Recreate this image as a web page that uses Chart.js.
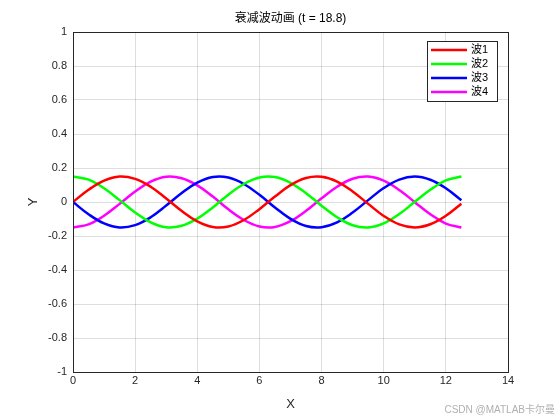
<!DOCTYPE html>
<html lang="zh">
<head>
<meta charset="UTF-8">
<script src="https://cdn.jsdelivr.net/npm/chart.js"></script>
<style>
  body { margin: 0; background: #fff; }
  #wrap { width: 560px; height: 420px; }
</style>
</head>
<body>
<div id="wrap"><canvas id="myChart"></canvas></div>
<script>
const xs = [0,0.5,1,1.5,2,2.5,3,3.5,4,4.5,5,5.5,6,6.5,7,7.5,8,8.5,9,9.5,10,10.5,11,11.5,12,12.5];
const wave1 = [0,0.072,0.126,0.150,0.136,0.090,0.021,-0.053,-0.114,-0.147,-0.144,-0.106,-0.042,0.032,0.099,0.141,0.148,0.120,0.062,-0.011,-0.082,-0.132,-0.150,-0.131,-0.081,-0.010];
const wave2 = [0.150,0.132,0.081,0.011,-0.062,-0.120,-0.149,-0.140,-0.098,-0.032,0.043,0.106,0.144,0.147,0.113,0.052,-0.022,-0.090,-0.137,-0.150,-0.126,-0.071,0.001,0.072,0.127,0.150];
const wave3 = [0,-0.072,-0.126,-0.150,-0.136,-0.090,-0.021,0.053,0.114,0.147,0.144,0.106,0.042,-0.032,-0.099,-0.141,-0.148,-0.120,-0.062,0.011,0.082,0.132,0.150,0.131,0.081,0.010];
const wave4 = [-0.150,-0.132,-0.081,-0.011,0.062,0.120,0.149,0.140,0.098,0.032,-0.043,-0.106,-0.144,-0.147,-0.113,-0.052,0.022,0.090,0.137,0.150,0.126,0.071,-0.001,-0.072,-0.127,-0.150];
const names = ['波1','波2','波3','波4'];
const colors = ['#ff0000','#00ff00','#0000ff','#ff00ff'];
const titleText = '衰减波动画 (t = 18.8)';
const watermark = 'CSDN @MATLAB卡尔曼';

const FONT = '"Liberation Sans", Arial, "Noto Sans CJK SC", sans-serif';
const series = [wave1, wave2, wave3, wave4];

// title, box, legend and watermark drawn by hand (MATLAB look)
const decor = {
  id: 'decor',
  afterDraw(chart) {
    const c = chart.ctx, a = chart.chartArea;
    c.save();
    c.strokeStyle = '#262626';
    c.lineWidth = 1;
    c.strokeRect(a.left + 0.5, a.top + 0.5, a.right - a.left, a.bottom - a.top);
    c.fillStyle = '#000';
    c.font = '12px ' + FONT;
    c.textAlign = 'center';
    c.textBaseline = 'middle';
    c.fillText(titleText, (a.left + a.right) / 2, 19);
    // legend
    const lx = 427, ly = 41, lw = 70, lh = 60;
    c.fillStyle = '#fff';
    c.fillRect(lx, ly, lw, lh);
    c.strokeStyle = '#262626';
    c.strokeRect(lx + 0.5, ly + 0.5, lw, lh);
    c.textAlign = 'left';
    c.font = '11px ' + FONT;
    names.forEach((n, i) => {
      const y = ly + 9 + i * 14;
      c.strokeStyle = colors[i];
      c.lineWidth = 2.5;
      c.beginPath(); c.moveTo(lx + 4, y); c.lineTo(lx + 40, y); c.stroke();
      c.fillStyle = '#000';
      c.fillText(n, lx + 44, y);
    });
    c.textAlign = 'right';
    c.font = '10px ' + FONT;
    c.fillStyle = '#b0b0b0';
    c.fillText(watermark, 555, 410);
    c.restore();
  }
};

new Chart(document.getElementById('myChart'), {
  type: 'line',
  data: {
    datasets: series.map((s, i) => ({
      label: names[i],
      data: xs.map((x, j) => ({ x: x, y: s[j] })),
      borderColor: colors[i],
      borderWidth: 2.5,
      pointRadius: 0,
      tension: 0.4,
      fill: false
    }))
  },
  plugins: [decor],
  options: {
    responsive: true,
    maintainAspectRatio: false,
    animation: false,
    layout: { padding: { top: 32, right: 52, left: 0, bottom: 0 } },
    plugins: { legend: { display: false }, title: { display: false }, tooltip: { enabled: false } },
    scales: {
      x: {
        type: 'linear', min: 0, max: 14,
        afterFit(s) { s.height = 48; },
        ticks: { stepSize: 2, color: '#262626', font: { family: FONT, size: 11 }, padding: 2 },
        grid: { color: 'rgba(0,0,0,0.13)', drawTicks: false },
        border: { color: '#262626' },
        title: { display: true, text: 'X', color: '#262626', font: { family: FONT, size: 13 }, padding: { top: 0, bottom: 8 } }
      },
      y: {
        min: -1, max: 1,
        afterFit(s) { s.width = 73; },
        ticks: {
          stepSize: 0.2, color: '#262626', font: { family: FONT, size: 11 }, padding: 6,
          callback: v => String(Number(v.toFixed(1)))
        },
        grid: { color: 'rgba(0,0,0,0.13)', drawTicks: false },
        border: { color: '#262626' },
        title: { display: true, text: 'Y', color: '#262626', font: { family: FONT, size: 13 }, padding: 26 }
      }
    }
  }
});
</script>
</body>
</html>
